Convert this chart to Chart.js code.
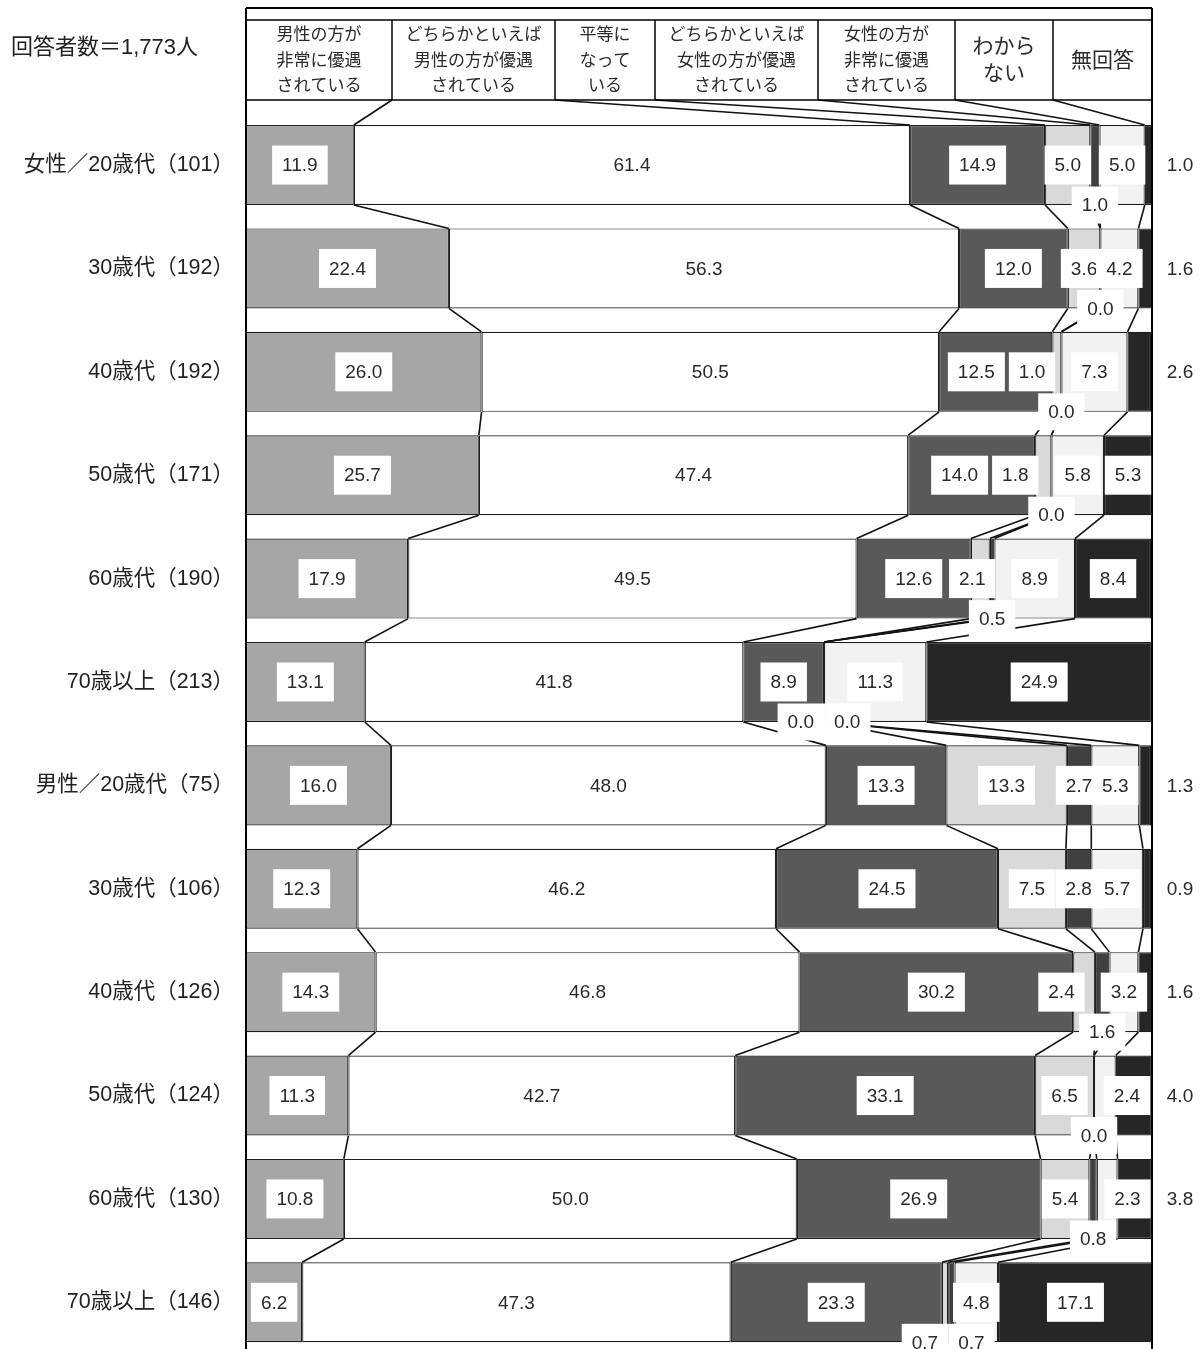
<!DOCTYPE html>
<html>
<head>
<meta charset="utf-8">
<script src="https://cdn.jsdelivr.net/npm/chart.js@4.4.1/dist/chart.umd.min.js"></script>
<style>
  html, body { margin: 0; padding: 0; background: #fff; overflow: hidden; }
  #wrap { width: 1204px; height: 1349px; overflow: hidden; }
</style>
</head>
<body>
<div id="wrap"><canvas id="chart" width="1204" height="1354"></canvas></div>
<script>
const groups = [
    '女性／20歳代（101）', '30歳代（192）', '40歳代（192）', '50歳代（171）', '60歳代（190）', '70歳以上（213）',
    '男性／20歳代（75）', '30歳代（106）', '40歳代（126）', '50歳代（124）', '60歳代（130）', '70歳以上（146）'
];
const respondents = '回答者数＝1,773人';

const seriesNames = [
    '男性の方が非常に優遇されている',
    'どちらかといえば男性の方が優遇されている',
    '平等になっている',
    'どちらかといえば女性の方が優遇されている',
    '女性の方が非常に優遇されている',
    'わからない',
    '無回答'
];
const headerLines = [
    ['男性の方が', '非常に優遇', 'されている'],
    ['どちらかといえば', '男性の方が優遇', 'されている'],
    ['平等に', 'なって', 'いる'],
    ['どちらかといえば', '女性の方が優遇', 'されている'],
    ['女性の方が', '非常に優遇', 'されている'],
    ['わから', 'ない'],
    ['無回答']
];

const maleVery       = [11.9, 22.4, 26.0, 25.7, 17.9, 13.1, 16.0, 12.3, 14.3, 11.3, 10.8, 6.2];
const maleSomewhat   = [61.4, 56.3, 50.5, 47.4, 49.5, 41.8, 48.0, 46.2, 46.8, 42.7, 50.0, 47.3];
const equalValues    = [14.9, 12.0, 12.5, 14.0, 12.6, 8.9, 13.3, 24.5, 30.2, 33.1, 26.9, 23.3];
const femaleSomewhat = [5.0, 3.6, 1.0, 1.8, 2.1, 0.0, 13.3, 7.5, 2.4, 6.5, 5.4, 0.7];
const femaleVery     = [1.0, 0.0, 0.0, 0.0, 0.5, 0.0, 2.7, 2.8, 1.6, 0.0, 0.8, 0.7];
const unknownValues  = [5.0, 4.2, 7.3, 5.8, 8.9, 11.3, 5.3, 5.7, 3.2, 2.4, 2.3, 4.8];
const noAnswer       = [1.0, 1.6, 2.6, 5.3, 8.4, 24.9, 1.3, 0.9, 1.6, 4.0, 3.8, 17.1];

const seriesValues = [maleVery, maleSomewhat, equalValues, femaleSomewhat, femaleVery, unknownValues, noAnswer];
const fills = ['#a6a6a6', '#ffffff', '#595959', '#d9d9d9', '#404040', '#f2f2f2', '#262626'];

// header box layout (x edges in px), header rows
const headerEdges = [246, 392, 555, 655, 818, 955, 1053, 1152];
const frameTop = 8, headTop = 20, headBottom = 100;

const FONT = '"Liberation Sans", "Noto Sans CJK JP", sans-serif';
const LABEL_FONT = '19px ' + FONT;
const TEXT = '#2a2a2a';

// where a value label goes: inside the bar, under it, or right of the plot
function placement(s, v) {
    if (s === 6) return v < 5 ? 'right' : 'in';
    if (s === 4) return v < 2 ? 'below' : 'in';
    return v < 1 ? 'below' : 'in';
}

function line(ctx, x1, y1, x2, y2) {
    ctx.beginPath();
    ctx.moveTo(x1, y1);
    ctx.lineTo(x2, y2);
    ctx.stroke();
}

function barBox(chart, s, i) {
    const p = chart.getDatasetMeta(s).data[i].getProps(['x', 'y', 'base', 'height'], true);
    return {
        left: Math.min(p.x, p.base), right: Math.max(p.x, p.base),
        y: p.y, top: p.y - p.height / 2, bottom: p.y + p.height / 2
    };
}

function drawBoxLabel(ctx, it, cy, h) {
    ctx.fillStyle = '#fff';
    ctx.fillRect(it.cx - it.w / 2, cy - h / 2, it.w, h);
    ctx.fillStyle = TEXT;
    ctx.fillText(it.text, it.cx, cy + 1);
}

const surveyPlugin = {
    id: 'survey',
    afterDatasetsDraw(chart) {
        const ctx = chart.ctx;
        const area = chart.chartArea;
        const n = groups.length;
        ctx.save();

        // series lines between bars
        ctx.strokeStyle = '#111';
        ctx.lineWidth = 1.6;
        for (let s = 0; s < seriesValues.length - 1; s++) {
            const first = barBox(chart, s, 0);
            line(ctx, headerEdges[s + 1], headBottom, first.right, first.top);
            for (let i = 0; i < n - 1; i++) {
                const a = barBox(chart, s, i);
                const b = barBox(chart, s, i + 1);
                line(ctx, a.right, a.bottom, b.right, b.top);
            }
        }

        // frame and header boxes
        ctx.strokeStyle = '#000';
        ctx.lineWidth = 2;
        line(ctx, area.left, frameTop, area.right, frameTop);
        line(ctx, area.left, frameTop, area.left, chart.height);
        line(ctx, area.right, frameTop, area.right, chart.height);
        ctx.lineWidth = 1.5;
        line(ctx, area.left, headTop, area.right, headTop);
        line(ctx, area.left, headBottom, area.right, headBottom);
        for (let k = 1; k < headerEdges.length - 1; k++) {
            line(ctx, headerEdges[k], headTop, headerEdges[k], headBottom);
        }

        ctx.textAlign = 'center';
        ctx.textBaseline = 'middle';
        ctx.fillStyle = TEXT;
        headerLines.forEach((lines, k) => {
            const cx = (headerEdges[k] + headerEdges[k + 1]) / 2;
            const big = lines.length < 3;
            ctx.font = (big ? '21px ' : '17px ') + FONT;
            const step = big ? 27 : 25.5;
            const mid = (headTop + headBottom) / 2 + 1;
            lines.forEach((t, j) => {
                ctx.fillText(t, cx, mid + (j - (lines.length - 1) / 2) * step);
            });
        });

        ctx.textAlign = 'left';
        ctx.font = '22px ' + FONT;
        ctx.fillStyle = '#222';
        ctx.fillText(respondents, 11, 48);

        // value labels
        ctx.font = LABEL_FONT;
        ctx.textAlign = 'center';
        for (let i = 0; i < n; i++) {
            const inside = [], below = [], right = [];
            seriesValues.forEach((arr, s) => {
                const b = barBox(chart, s, i);
                const text = arr[i].toFixed(1);
                const tw = ctx.measureText(text).width;
                const it = { text, tw, w: tw + 20, cx: (b.left + b.right) / 2, seg: b.right - b.left, b };
                const mode = placement(s, arr[i]);
                if (mode === 'in') inside.push(it);
                else if (mode === 'below') below.push(it);
                else right.push(it);
            });

            // narrow segments: move their label off the neighbour
            const G = 16;
            for (let k = 0; k < inside.length; k++) {
                const it = inside[k];
                if (it.seg >= it.tw - 2.5) continue;
                const r = inside[k + 1], l = inside[k - 1];
                if (r && it.cx + it.w / 2 > r.cx - r.w / 2 - G) {
                    it.cx = r.cx - r.w / 2 - G - it.w / 2;
                } else if (l && it.cx - it.w / 2 < l.cx + l.w / 2 + G) {
                    it.cx = l.cx + l.w / 2 + G + it.w / 2;
                }
                for (let j = k - 1; j >= 0; j--) {
                    const a = inside[j], c = inside[j + 1];
                    if (a.cx + a.w / 2 > c.cx - c.w / 2 - 4) a.cx = c.cx - c.w / 2 - 4 - a.w / 2;
                    else break;
                }
            }
            for (let k = 0; k < below.length - 1; k++) {
                const a = below[k], c = below[k + 1];
                const over = (a.cx + a.w / 2) - (c.cx - c.w / 2);
                if (over > 0) { a.cx -= over / 2; c.cx += over / 2; }
            }

            inside.forEach(it => drawBoxLabel(ctx, it, it.b.y, 39));
            below.forEach(it => drawBoxLabel(ctx, it, it.b.bottom, 37));
            right.forEach(it => {
                ctx.fillStyle = TEXT;
                ctx.fillText(it.text, 1180, it.b.y + 1);
            });
        }
        ctx.restore();
    }
};

new Chart(document.getElementById('chart'), {
    type: 'bar',
    data: {
        labels: groups,
        datasets: seriesNames.map((name, s) => ({
            label: name,
            data: seriesValues[s],
            backgroundColor: fills[s],
            borderColor: '#1e1e1e',
            borderWidth: 1.2,
            borderSkipped: false,
            categoryPercentage: 1,
            barPercentage: 0.774
        }))
    },
    options: {
        indexAxis: 'y',
        responsive: false,
        animation: false,
        layout: { padding: { top: 113.35, right: 52, bottom: 0, left: 0 } },
        scales: {
            x: { stacked: true, min: 0, max: 100, display: false },
            y: {
                stacked: true,
                grid: { display: false },
                border: { display: false },
                ticks: { padding: 4, color: '#222', font: { family: FONT, size: 21.5 } },
                afterFit: scale => {
                    scale.width = 246;
                    scale.paddingTop = 0;
                    scale.paddingBottom = 0;
                }
            }
        },
        plugins: {
            legend: { display: false },
            tooltip: { enabled: false }
        }
    },
    plugins: [surveyPlugin]
});
</script>
</body>
</html>
